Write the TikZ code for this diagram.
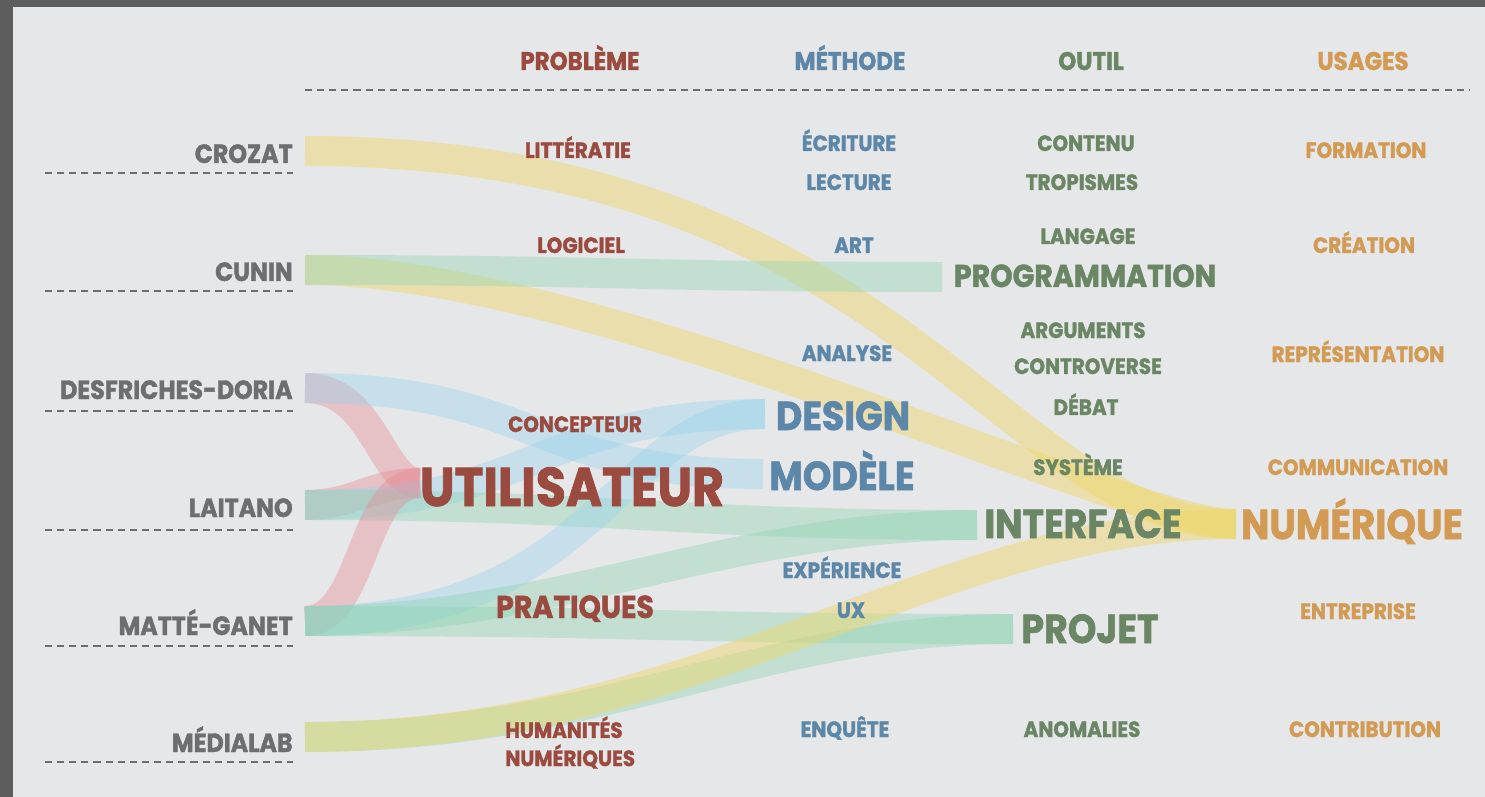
\documentclass[tikz,border=0pt]{standalone}
\usepackage{fontspec}
\setmainfont{Poppins}[FakeStretch=0.9, BoldFeatures={FakeBold=1.5}]

\definecolor{framec}{HTML}{5D5D5D}
\definecolor{bgc}{HTML}{E6E7E8}
\definecolor{namec}{HTML}{6D6E71}
\definecolor{probc}{HTML}{9B4A3F}
\definecolor{methc}{HTML}{5D87A8}
\definecolor{toolc}{HTML}{6A8665}
\definecolor{usec}{HTML}{D29A53}
\definecolor{yc}{HTML}{F0D765}
\definecolor{gc}{HTML}{8ED3B3}
\definecolor{bc}{HTML}{98D3ED}
\definecolor{rc}{HTML}{E68893}

\tikzset{
  rule/.style={namec, line width=1.1pt, dash pattern=on 4pt off 2.9pt},
  band/.style={line width=0.6cm, draw opacity=0.4, line cap=butt},
  yband/.style={band, draw=yc, draw opacity=0.45},
  gband/.style={band, draw=gc},
  bband/.style={band, draw=bc},
  rband/.style={band, draw=rc},
  lab/.style={inner sep=0pt, anchor=base, font=\bfseries\fontsize{12.6}{15}\selectfont},
  head/.style={lab, font=\bfseries\fontsize{14.5}{17}\selectfont},
  person/.style={lab, anchor=base east, text=namec, font=\bfseries\fontsize{15}{17}\selectfont},
  prob/.style={text=probc},
  meth/.style={text=methc},
  tool/.style={text=toolc},
  usage/.style={text=usec}
}

\begin{document}
\begin{tikzpicture}[x=0.02cm,y=0.02cm]
\useasboundingbox (0,0) rectangle (1485,-797);
\fill[framec] (0,0) rectangle (1485,-797);
\fill[bgc] (13,-7) rectangle (1485,-797);

\draw[rule] (305,-90) -- (1470,-90);
\foreach \y in {173,291,411,530,646,762}
  \draw[rule] (45,-\y) -- (293,-\y);

% start and end of the bands
\coordinate (crozat-o) at (305,-151);
\coordinate (cunin-o) at (305,-270);
\coordinate (desfriches-o) at (305,-388);
\coordinate (laitano-o) at (305,-505);
\coordinate (matte-o) at (305,-621);
\coordinate (medialab-o) at (305,-737);
\coordinate (utilisateur-i) at (420,-483);
\coordinate (design-i) at (765,-414);
\coordinate (modele-i) at (763,-474);
\coordinate (programmation-i) at (942,-277);
\coordinate (interface-i) at (977,-525);
\coordinate (projet-i) at (1013,-629);
\coordinate (numerique-i) at (1236,-524);

\draw[yband] (crozat-o) to[out=0,in=180,out distance=11.9cm,in distance=4.7cm] (numerique-i);
\draw[yband] (cunin-o) to[out=0,in=180,out distance=5.9cm,in distance=2.2cm] (numerique-i);
\draw[gband] (cunin-o) to[out=0,in=180,out distance=6cm,in distance=6cm] (programmation-i);
\draw[rband] (desfriches-o) to[out=0,in=180,out distance=1.4cm,in distance=0.8cm] (utilisateur-i);
\draw[bband] (desfriches-o) to[out=0,in=180,out distance=4.6cm,in distance=4.6cm] (modele-i);
\draw[rband] (laitano-o) to[out=0,in=180,out distance=1cm,in distance=1cm] (utilisateur-i);
\draw[bband] (laitano-o) to[out=0,in=180,out distance=4.6cm,in distance=4.6cm] (design-i);
\draw[gband] (laitano-o) to[out=0,in=180,out distance=6cm,in distance=6cm] (interface-i);
\draw[rband] (matte-o) to[out=0,in=180,out distance=1.2cm,in distance=1.2cm] (utilisateur-i);
\draw[bband] (matte-o) to[out=0,in=180,out distance=6cm,in distance=3cm] (design-i);
\draw[gband] (matte-o) to[out=0,in=180,out distance=5cm,in distance=5cm] (interface-i);
\draw[gband] (matte-o) to[out=0,in=180,out distance=7cm,in distance=7cm] (projet-i);
\draw[gband] (medialab-o) to[out=0,in=180,out distance=6cm,in distance=5cm] (projet-i);
\draw[yband] (medialab-o) to[out=0,in=180,out distance=8cm,in distance=6cm] (numerique-i);

% names
\node[person] (crozat) at (293,-163) {CROZAT};
\node[person] (cunin) at (293,-281) {CUNIN};
\node[person] (desfriches) at (293,-399) {DESFRICHES-DORIA};
\node[person] (laitano) at (293,-517) {LAITANO};
\node[person] (matte) at (293,-635) {MATTÉ-GANET};
\node[person] (medialab) at (293,-752) {MÉDIALAB};

% headers
\node[head, prob] (probleme) at (580,-70) {PROBLÈME};
\node[head, meth] (methode) at (850,-70) {MÉTHODE};
\node[head, tool] (outil) at (1091,-70) {OUTIL};
\node[head, usage] (usages) at (1363,-70) {USAGES};

% probleme
\node[lab, prob] (litteratie) at (578,-158) {LITTÉRATIE};
\node[lab, prob] (logiciel) at (581,-253) {LOGICIEL};
\node[lab, prob] (concepteur) at (575,-432) {CONCEPTEUR};
\node[lab, prob, font=\bfseries\fontsize{31}{33}\selectfont] (utilisateur) at (572,-506) {UTILISATEUR};
\node[lab, prob, font=\bfseries\fontsize{18}{20}\selectfont] (pratiques) at (575,-618) {PRATIQUES};
\node[lab, prob, anchor=north west, align=left, font=\bfseries\fontsize{12.6}{16}\selectfont] (humanites) at (505,-716) {HUMANITÉS\\NUMÉRIQUES};

% methode
\node[lab, meth] (ecriture) at (849,-151) {ÉCRITURE};
\node[lab, meth] (lecture) at (849,-190) {LECTURE};
\node[lab, meth] (art) at (854,-253) {ART};
\node[lab, meth] (analyse) at (847,-361) {ANALYSE};
\node[lab, meth, font=\bfseries\fontsize{23}{25}\selectfont] (design) at (843,-430) {DESIGN};
\node[lab, meth, font=\bfseries\fontsize{23}{25}\selectfont] (modele) at (842,-490) {MODÈLE};
\node[lab, meth] (experience) at (842,-578) {EXPÉRIENCE};
\node[lab, meth] (ux) at (851,-618) {UX};
\node[lab, meth] (enquete) at (845,-737) {ENQUÊTE};

% outil
\node[lab, tool] (contenu) at (1086,-151) {CONTENU};
\node[lab, tool] (tropismes) at (1082,-190) {TROPISMES};
\node[lab, tool] (langage) at (1088,-244) {LANGAGE};
\node[lab, tool, font=\bfseries\fontsize{18}{20}\selectfont] (programmation) at (1085,-287) {PROGRAMMATION};
\node[lab, tool] (arguments) at (1083,-338) {ARGUMENTS};
\node[lab, tool] (controverse) at (1088,-374) {CONTROVERSE};
\node[lab, tool] (debat) at (1086,-415) {DÉBAT};
\node[lab, tool] (systeme) at (1078,-475) {SYSTÈME};
\node[lab, tool, font=\bfseries\fontsize{23}{25}\selectfont] (interface) at (1083,-538) {INTERFACE};
\node[lab, tool, font=\bfseries\fontsize{23}{25}\selectfont] (projet) at (1090,-643) {PROJET};
\node[lab, tool] (anomalies) at (1082,-737) {ANOMALIES};

% usages
\node[lab, usage] (formation) at (1366,-158) {FORMATION};
\node[lab, usage] (creation) at (1364,-253) {CRÉATION};
\node[lab, usage] (representation) at (1358,-362) {REPRÉSENTATION};
\node[lab, usage] (communication) at (1358,-475) {COMMUNICATION};
\node[lab, usage, font=\bfseries\fontsize{23.8}{25}\selectfont] (numerique) at (1352,-539) {NUMÉRIQUE};
\node[lab, usage] (entreprise) at (1358,-619) {ENTREPRISE};
\node[lab, usage] (contribution) at (1365,-737) {CONTRIBUTION};
\end{tikzpicture}
\end{document}
